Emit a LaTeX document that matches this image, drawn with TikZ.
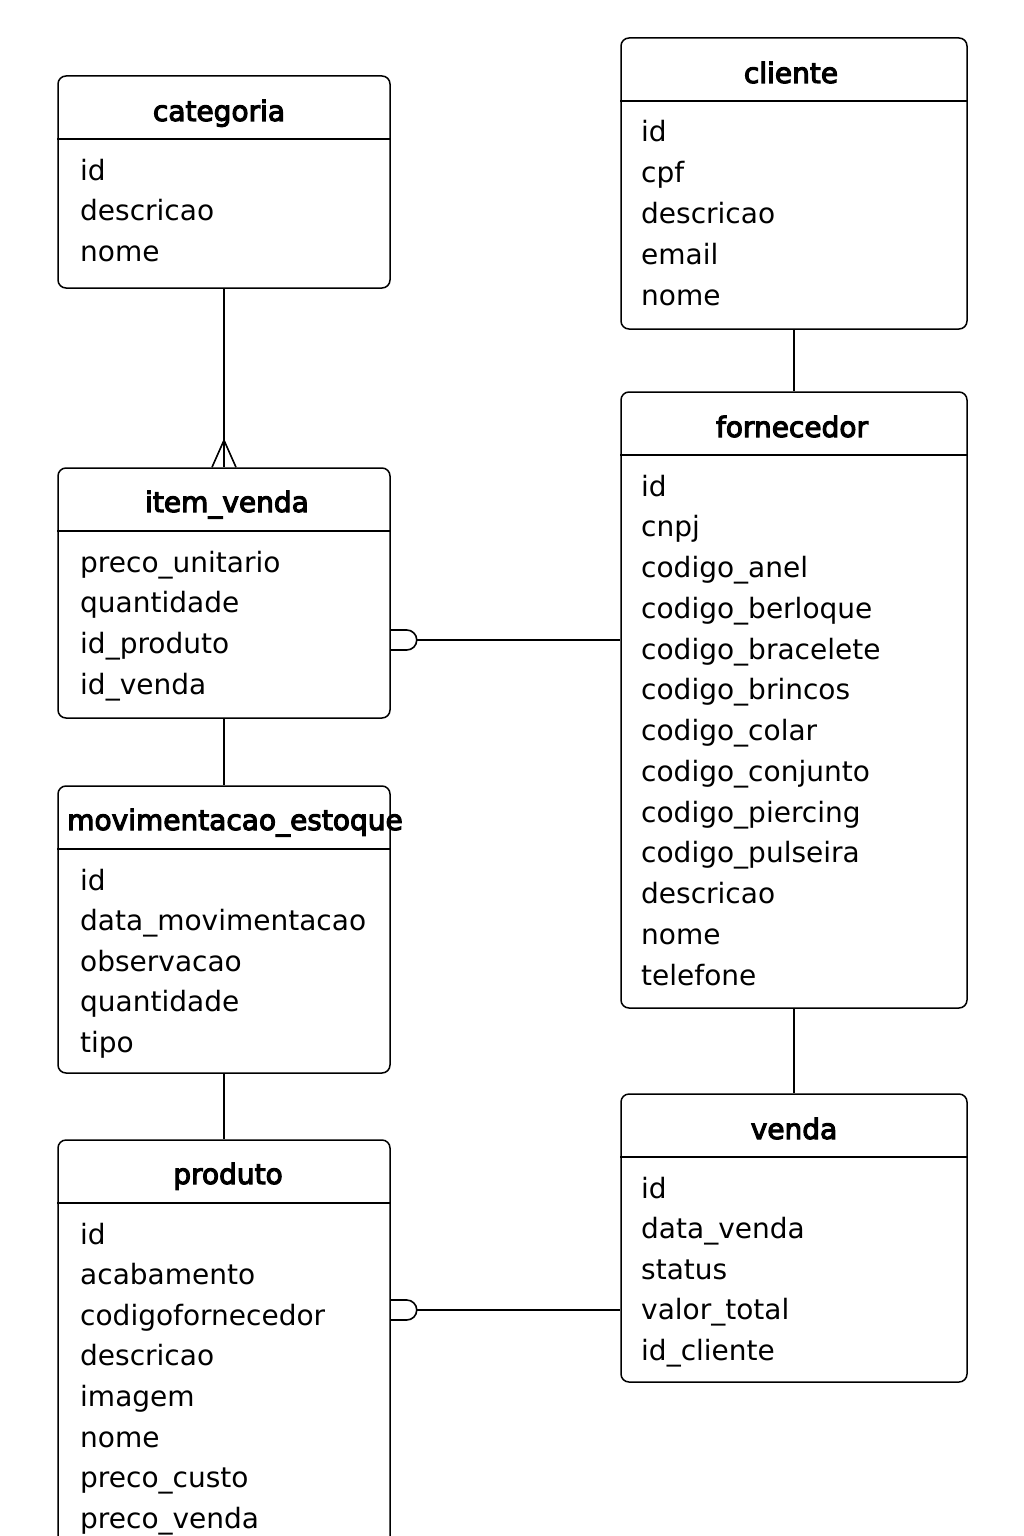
\documentclass[tikz,border=0pt]{standalone}
\usepackage{fontspec}
\setmainfont{DejaVu Sans}
\usetikzlibrary{calc}
\newcommand\semibold[1]{\special{pdf:literal direct 2 Tr 1.1 w}#1\special{pdf:literal direct 0 Tr}}
\tikzset{
 box/.style={draw=black, line width=1.5pt, rounded corners=8pt, inner sep=0pt, fill=white},
 hline/.style={draw=black, line width=1.4pt},
 conn/.style={draw=black, line width=1.6pt},
 attr/.style={anchor=base west, inner sep=0pt, font=\fontsize{28}{34}\selectfont},
 ttl/.style={anchor=base, inner sep=0pt, font=\fontsize{28}{34}\selectfont},
}
\begin{document}
\begin{tikzpicture}[x=1pt,y=-1pt]
\useasboundingbox (0,0) rectangle (1024,1536);
\fill[white] (0,0) rectangle (1024,1536);
\clip (0,0) rectangle (1024,1536);
% boxes
\node[box, minimum width=332pt, minimum height=212pt] (cat) at (224,182) {};
\node[box, minimum width=346pt, minimum height=291pt] (cli) at (794,183.5) {};
\node[box, minimum width=346pt, minimum height=616pt] (fo) at (794,700) {};
\node[box, minimum width=332pt, minimum height=250pt] (iv) at (224,593) {};
\node[box, minimum width=332pt, minimum height=287pt] (mv) at (224,929.5) {};
\node[box, minimum width=332pt, minimum height=460pt] (pr) at (224,1370) {};
\node[box, minimum width=346pt, minimum height=288pt] (ve) at (794,1238) {};
% header lines
\draw[hline] (cat.west |- 0,139) -- (cat.east |- 0,139);
\draw[hline] (cli.west |- 0,101) -- (cli.east |- 0,101);
\draw[hline] (fo.west |- 0,455) -- (fo.east |- 0,455);
\draw[hline] (iv.west |- 0,531) -- (iv.east |- 0,531);
\draw[hline] (mv.west |- 0,849) -- (mv.east |- 0,849);
\draw[hline] (pr.west |- 0,1203) -- (pr.east |- 0,1203);
\draw[hline] (ve.west |- 0,1157) -- (ve.east |- 0,1157);
% titles
\node[ttl] (catT) at (219,121) {\semibold{categoria}};
\node[ttl] (cliT) at (791,83) {\semibold{cliente}};
\node[ttl] (foT) at (792,437) {\semibold{fornecedor}};
\node[ttl] (ivT) at (227,512) {\semibold{item\_venda}};
\node[ttl] (mvT) at (235,830) {\semibold{movimentacao\_estoque}};
\node[ttl] (prT) at (228,1184) {\semibold{produto}};
\node[ttl] (veT) at (794,1139) {\semibold{venda}};
% attributes
\foreach \t [count=\i from 0] in {id,descricao,nome}
  \node[attr] (cat-\i) at (80,180+40.75*\i) {\t};
\foreach \t [count=\i from 0] in {id,cpf,descricao,email,nome}
  \node[attr] (cli-\i) at (641,142+40.75*\i) {\t};
\foreach \t [count=\i from 0] in {id,cnpj,codigo\_anel,codigo\_berloque,codigo\_bracelete,codigo\_brincos,codigo\_colar,codigo\_conjunto,codigo\_piercing,codigo\_pulseira,descricao,nome,telefone}
  \node[attr] (fo-\i) at (641,496+40.75*\i) {\t};
\foreach \t [count=\i from 0] in {preco\_unitario,quantidade,id\_produto,id\_venda}
  \node[attr] (iv-\i) at (80,572+40.75*\i) {\t};
\foreach \t [count=\i from 0] in {id,data\_movimentacao,observacao,quantidade,tipo}
  \node[attr] (mv-\i) at (80,890+40.5*\i) {\t};
\foreach \t [count=\i from 0] in {id,acabamento,codigofornecedor,descricao,imagem,nome,preco\_custo,preco\_venda}
  \node[attr] (pr-\i) at (80,1244+40.6*\i) {\t};
\foreach \t [count=\i from 0] in {id,data\_venda,status,valor\_total,id\_cliente}
  \node[attr] (ve-\i) at (641,1198+40.5*\i) {\t};
% connectors
\draw[conn] (cat.south) -- (iv.north);
\draw[conn] ($(iv.north)+(-12,0)$) -- ($(iv.north)+(0,-27)$) -- ($(iv.north)+(12,0)$);
\draw[conn] (cli.south) -- (fo.north);
\draw[conn] (iv.south) -- (mv.north);
\draw[conn] (mv.south) -- (pr.north);
\draw[conn] (fo.south) -- (ve.north);
\coordinate (ivR) at (iv.east |- 0,640);
\draw[conn] (ivR) ++(0,-10) -- ++(16,0) arc[start angle=90,end angle=-90,radius=10pt] -- ++(-16,0);
\draw[conn] ($(ivR)+(26,0)$) -- (fo.west |- ivR);
\coordinate (prR) at (pr.east |- 0,1310);
\draw[conn] (prR) ++(0,-10) -- ++(16,0) arc[start angle=90,end angle=-90,radius=10pt] -- ++(-16,0);
\draw[conn] ($(prR)+(26,0)$) -- (ve.west |- prR);
\end{tikzpicture}
\end{document}
